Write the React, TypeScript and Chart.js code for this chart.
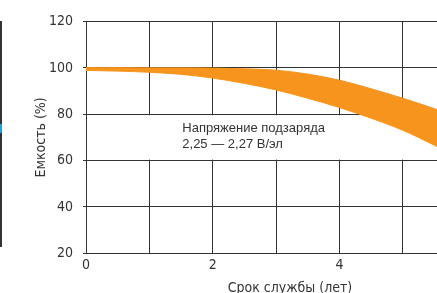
import React, { useEffect, useRef } from "react";
import { Chart, registerables } from "chart.js";

Chart.register(...registerables);

// ---- data ----
const years = [0, 0.5, 1, 1.5, 2, 2.5, 3, 3.5, 4, 4.5, 5, 5.5, 6, 6.5];
const upperCapacity = [100.1, 100.1, 100, 100, 99.9, 99.6, 99, 97.3, 94.7, 91, 86.9, 82.4, 77.6, 72.5];
const lowerCapacity = [98.9, 98.6, 98.1, 97.2, 95.6, 93.3, 90.5, 86.9, 82.9, 78.3, 73.1, 66.6, 59.5, 52];
const yTickValues = [20, 40, 60, 80, 100, 120];
const xTickLabels = [0, 2, 4, 6];
const yTitle = "Емкость (%)";
const xTitle = "Срок службы (лет)";
const noteLines = ["Напряжение подзаряда", "2,25 — 2,27 В/эл"];
const noteAt = { x: 1.52, y: 72.2 };
const noteBand = { from: 60, to: 80 };

const ORANGE = "#F7941D";
const INK = "#333333";
const NARROW = "'Liberation Sans Narrow', 'DejaVu Sans Condensed', 'Liberation Sans', sans-serif";
const REGULAR = "'Liberation Sans', Arial, sans-serif";

const notePlugin = {
  id: "notePlugin",
  beforeDatasetsDraw(chart: any) {
    const { ctx, chartArea, scales } = chart;
    const x = scales.x;
    const y = scales.y;
    const top = y.getPixelForValue(noteBand.to) + 1;
    const bottom = y.getPixelForValue(noteBand.from) - 1;
    ctx.save();
    ctx.fillStyle = "#ffffff";
    ctx.fillRect(chartArea.left + 1, top, chartArea.right - chartArea.left, bottom - top);
    ctx.fillStyle = INK;
    ctx.font = "13px " + REGULAR;
    ctx.textBaseline = "alphabetic";
    ctx.textAlign = "left";
    const tx = x.getPixelForValue(noteAt.x);
    const ty = y.getPixelForValue(noteAt.y);
    noteLines.forEach((line, i) => ctx.fillText(line, tx, ty + i * 15.4));
    ctx.restore();
  },
};

export default function App() {
  const ref = useRef<HTMLCanvasElement | null>(null);

  useEffect(() => {
    if (!ref.current) return;
    const chart = new Chart(ref.current, {
      type: "line",
      data: {
        datasets: [
          {
            data: years.map((v, i) => ({ x: v, y: upperCapacity[i] })),
            borderColor: ORANGE,
            backgroundColor: ORANGE,
            borderWidth: 1,
            pointRadius: 0,
            fill: "+1",
            cubicInterpolationMode: "monotone",
          },
          {
            data: years.map((v, i) => ({ x: v, y: lowerCapacity[i] })),
            borderColor: ORANGE,
            backgroundColor: ORANGE,
            borderWidth: 1,
            pointRadius: 0,
            fill: false,
            cubicInterpolationMode: "monotone",
          },
        ],
      },
      options: {
        responsive: false,
        animation: false,
        devicePixelRatio: 1,
        layout: { padding: { left: 29, top: 21.5, right: 26, bottom: 0 } },
        plugins: { legend: { display: false }, tooltip: { enabled: false } },
        scales: {
          x: {
            type: "linear",
            min: 0,
            max: 6.44,
            afterFit: (s: any) => {
              s.height = 46.7;
            },
            grid: { color: INK, lineWidth: 1, drawTicks: false },
            border: { color: INK, width: 1 },
            ticks: {
              stepSize: 1,
              includeBounds: false,
              padding: 4,
              color: INK,
              font: { family: NARROW, size: 14 },
              maxRotation: 0,
              autoSkip: false,
              callback: (v: any) => (xTickLabels.includes(Number(v)) ? String(v) : ""),
            },
            title: {
              display: true,
              text: xTitle,
              color: INK,
              font: { family: NARROW, size: 14 },
              padding: { top: 0, bottom: 3.6 },
            },
          },
          y: {
            min: yTickValues[0],
            max: yTickValues[yTickValues.length - 1],
            afterFit: (s: any) => {
              s.width = 57;
            },
            afterBuildTicks: (s: any) => {
              s.ticks = yTickValues.map((v) => ({ value: v }));
            },
            grid: { color: INK, lineWidth: 1, tickLength: 3 },
            border: { color: INK, width: 1 },
            ticks: {
              padding: 10,
              color: INK,
              font: { family: NARROW, size: 14 },
            },
            title: {
              display: true,
              text: yTitle,
              color: INK,
              font: { family: NARROW, size: 14 },
              padding: { top: 4, bottom: 4 },
            },
          },
        },
      },
      plugins: [notePlugin],
    } as any);
    return () => chart.destroy();
  }, []);

  return (
    <div
      style={{
        position: "absolute",
        left: 0,
        top: 0,
        width: 437,
        height: 293,
        overflow: "hidden",
        background: "#ffffff",
      }}
    >
      <div style={{ position: "absolute", left: 0, top: 21, width: 1.5, height: 226, background: INK }} />
      <div style={{ position: "absolute", left: 0, top: 124, width: 2, height: 9, background: "#1ea0dc" }} />
      <canvas ref={ref} width={520} height={300} style={{ display: "block", width: 520, height: 300 }} />
    </div>
  );
}
